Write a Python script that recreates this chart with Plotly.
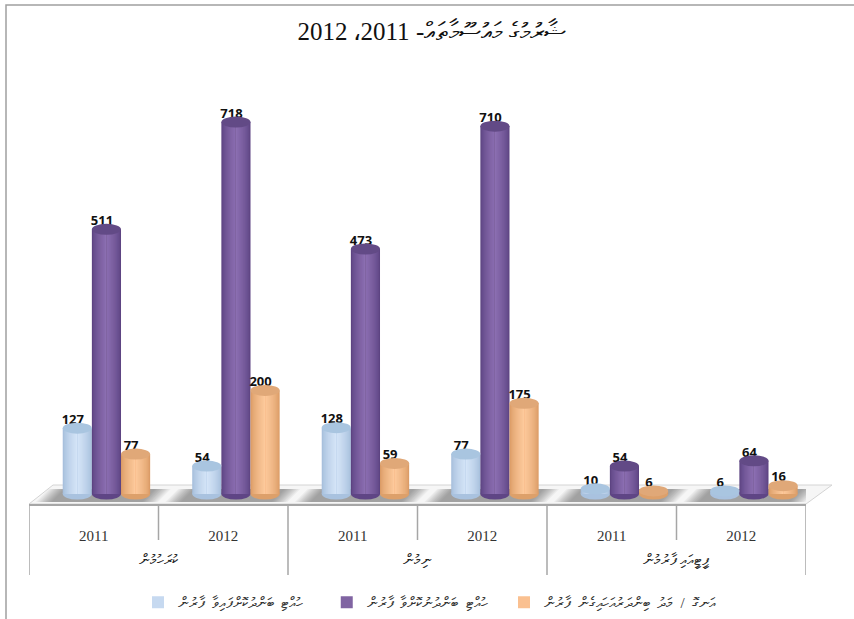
import plotly.graph_objects as go

years = ["2011", "2012", "2011", "2012", "2011", "2012"]
groups = ["ކުރަހުމުން", "ނިމުން", "ޕީޓީއައި ފާރުމުން"]
series_names = ["ހުއްޓި\u00a0 ބަންދުކޮށްފައިވާ\u00a0 ފާރުން", "ހުއްޓި\u00a0 ބަންދުނުކޮށްވާ\u00a0 ފާރުން", "އަނގޮ\u00a0 /\u00a0 މަދު\u00a0 ބިންދަރުއަހައިގެން\u00a0 ފާރުން"]
title_text = "ޝާރުމުގެ މައުސޫމާތައް- 2011،\u20092012"
values_blue = [127, 54, 128, 77, 10, 6]
values_purple = [511, 718, 473, 710, 54, 64]
values_orange = [77, 200, 59, 175, 6, 16]
series_values = [values_blue, values_purple, values_orange]

main_colors = ["#c6d9f0", "#8064a2", "#fac090"]
edge_colors = [(0xa6, 0xbf, 0xdc), (0x5d, 0x44, 0x82), (0xdb, 0x9c, 0x66)]
centre_colors = [(0xd4, 0xe4, 0xf7), (0x8b, 0x6e, 0xb1), (0xfd, 0xc9, 0x9b)]
tops = ["#a9c5e0", "#624a86", "#e0a878"]
bottoms = ["#a9c2df", "#5f4585", "#dda06a"]
legend_pad = [5, 3, 0]

W = 854; H = 619
L = 29; R = 806; T = 50; B = 504
px_y = 0.518                     # pixels per unit
cat_px = (R - L) / 6
y_lo = -(B - 494) / px_y
y_hi = (494 - T) / px_y
bar_w = 0.225
shift = 0.098
offsets = [shift - bar_w, shift, shift + bar_w]
ell_ry = 5.5 / px_y
cat_pos = list(range(6))
n_strips = 14

def fx(px):
    return (px - L) / (R - L)
def fy(px):
    return 1 - (px - T) / (B - T)
def mix(a, b, t):
    return "rgb(%d,%d,%d)" % tuple(round(a[i] + (b[i] - a[i]) * t) for i in range(3))

fig = go.Figure()
shapes = []

# floor
shapes.append(dict(type="path", xref="paper", yref="paper", layer="below",
                   path=f"M {fx(L)} {fy(B)} L {fx(R)} {fy(B)} L {fx(832)} {fy(485)} L {fx(53)} {fy(485)} Z",
                   fillcolor="#f6f6f6", line=dict(color="#d4d4d4", width=1)))
# soft shadow on the floor under each group of bars
for p in cat_pos:
    c = p + shift * 0.75
    d = 0.05
    for k in range(10):
        half = 0.47 - k * 0.013
        shapes.append(dict(type="path", xref="x", yref="paper", layer="below",
                           path=f"M {c-half-d} {fy(502)} L {c+half-d} {fy(502)} L {c+half+d} {fy(489)} L {c-half+d} {fy(489)} Z",
                           fillcolor="#404040", opacity=0.06, line=dict(width=0)))

# cylinders
for s, vals in enumerate(series_values):
    xs = [p + offsets[s] for p in cat_pos]
    for xc, v in zip(xs, vals):
        shapes.append(dict(type="circle", xref="x", yref="y", layer="below",
                           x0=xc - bar_w / 2, x1=xc + bar_w / 2, y0=-ell_ry, y1=ell_ry,
                           fillcolor=bottoms[s], line=dict(width=0)))
        shapes.append(dict(type="circle", xref="x", yref="y", layer="above",
                           x0=xc - bar_w / 2, x1=xc + bar_w / 2, y0=v - ell_ry, y1=v + ell_ry,
                           fillcolor=tops[s], line=dict(width=0)))
    for i in range(n_strips):
        t = i / (n_strips - 1)
        fig.add_trace(go.Bar(x=xs, y=vals, width=bar_w * (1 - t * 0.95),
                             marker=dict(color=mix(edge_colors[s], centre_colors[s], t ** 0.7), line=dict(width=0)),
                             name=series_names[s], showlegend=False, hoverinfo="skip"))
    # legend entry carries the series main colour
    pad = "\u200f" + "\u00a0" * legend_pad[s]
    fig.add_trace(go.Bar(x=xs, y=vals, width=bar_w * 0.001, marker=dict(color=main_colors[s], line=dict(width=0)),
                         name=pad + series_names[s], showlegend=True))
    # value labels
    fig.add_trace(go.Scatter(x=[x - 4.5 / cat_px for x in xs], y=[v + 1 / px_y for v in vals],
                             mode="text", text=[str(v) for v in vals], textposition="top center",
                             textfont=dict(family="Open Sans", size=13, color="#111111", weight="bold"),
                             showlegend=False, hoverinfo="skip", cliponaxis=False))

# category dividers
for p in range(7):
    bottom_px = 575 if p % 2 == 0 else 540
    shapes.append(dict(type="line", xref="x", yref="paper", x0=p - 0.5, x1=p - 0.5,
                       y0=fy(B), y1=fy(bottom_px), line=dict(color="#a6a6a6", width=1.5)))
# outer frame
shapes.append(dict(type="path", xref="paper", yref="paper", layer="below",
                   path=f"M {fx(6)} {fy(619)} L {fx(6)} {fy(5)} L {fx(854)} {fy(5)}",
                   line=dict(color="#a0a0a0", width=1.5)))

annotations = []
for g, name in enumerate(groups):
    annotations.append(dict(x=2 * g + 0.5, y=fy(560), xref="x", yref="paper", text=name, showarrow=False,
                            font=dict(family="Liberation Serif", size=15, color="#222222"), yanchor="middle"))

fig.update_layout(
    width=W, height=H, autosize=False,
    margin=dict(l=L, r=W - R, t=T, b=H - B, pad=0, autoexpand=False),
    paper_bgcolor="white", plot_bgcolor="rgba(0,0,0,0)",
    barmode="overlay",
    title=dict(text=title_text, x=432 / W, xanchor="center", y=1 - 31 / H, yanchor="middle",
               font=dict(family="Liberation Serif", size=25, color="#111111")),
    xaxis=dict(range=[-0.5, 5.5], tickmode="array", tickvals=cat_pos, ticktext=years, ticks="",
               ticklabelstandoff=17, showgrid=False, zeroline=False, showline=True, linecolor="#a6a6a6", linewidth=1.5,
               tickfont=dict(family="Liberation Serif", size=15, color="#333333")),
    yaxis=dict(range=[y_lo, y_hi], visible=False, showgrid=False, zeroline=False),
    legend=dict(orientation="h", x=fx(138), y=fy(586), xanchor="left", yanchor="top",
                font=dict(family="Liberation Serif", size=15, color="#333333"),
                bgcolor="rgba(0,0,0,0)", traceorder="normal", itemwidth=30),
    shapes=shapes, annotations=annotations, showlegend=True,
)
fig.write_html("out.html", config={"displayModeBar": False},
               post_script="document.body.style.margin='0';document.body.style.overflow='hidden';")
